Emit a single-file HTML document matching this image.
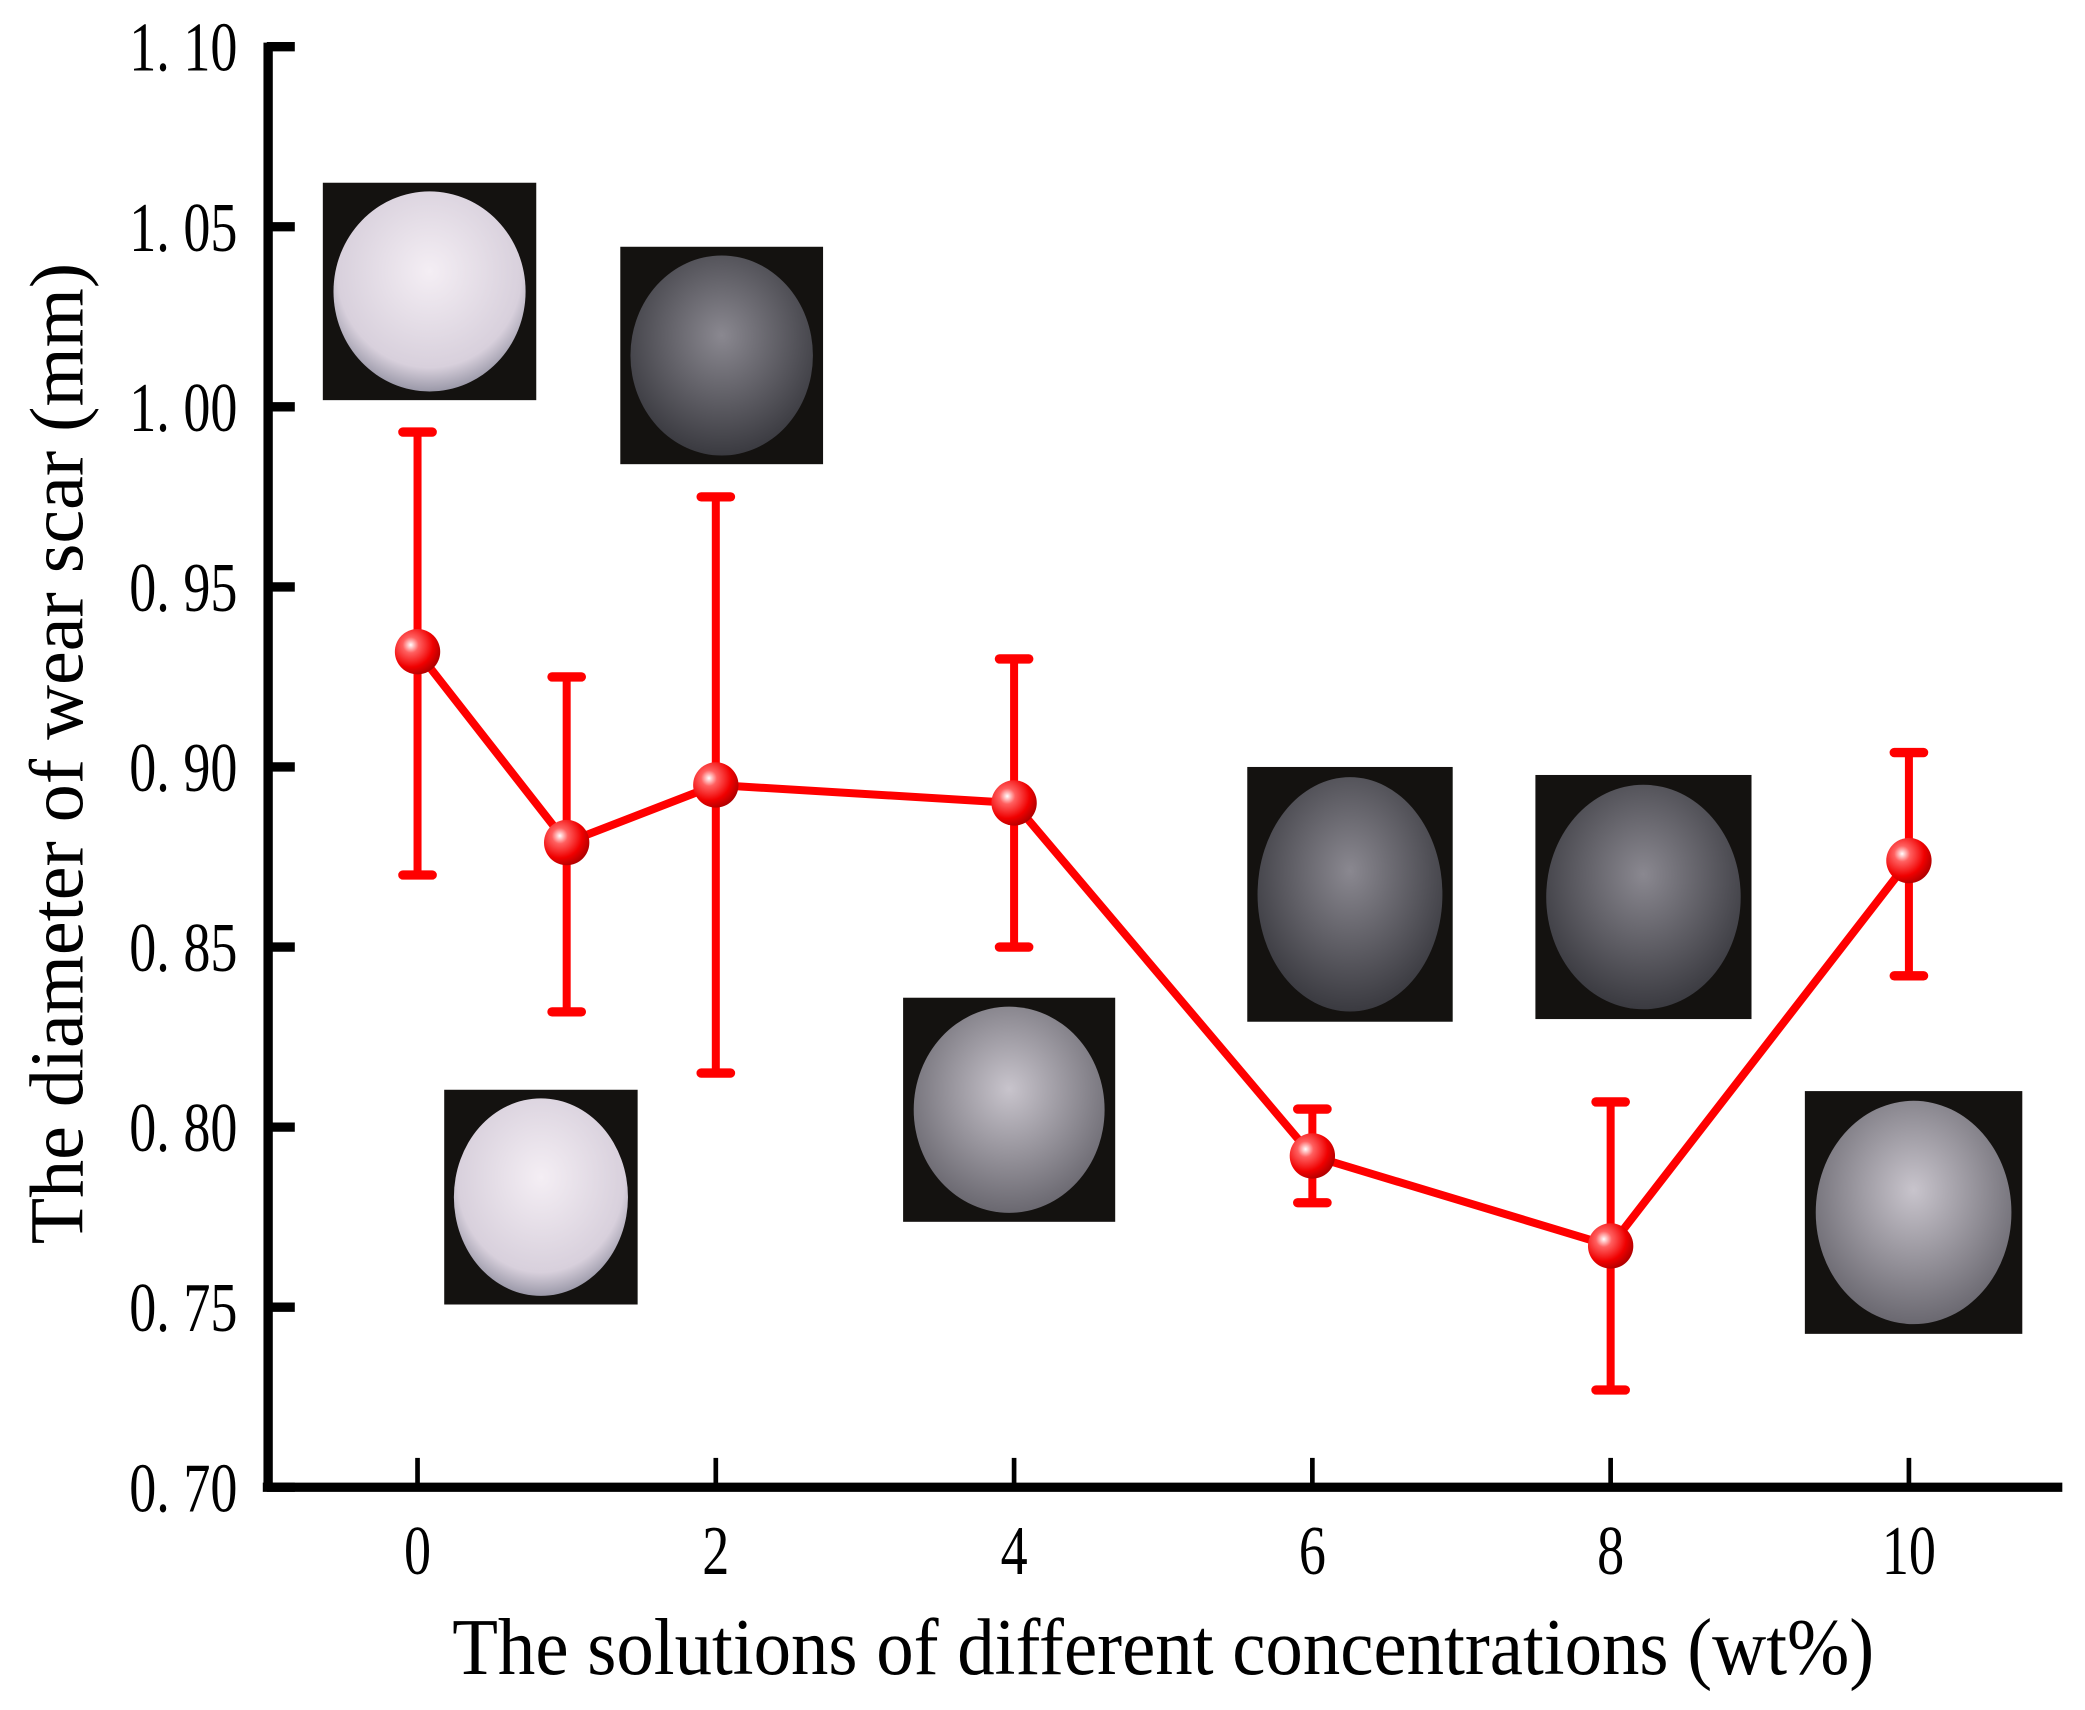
<!DOCTYPE html>
<html><head><meta charset="utf-8"><style>
html,body{margin:0;padding:0;background:#fff;}
svg{display:block;}
text{font-family:"Liberation Serif",serif;fill:#000;}
</style></head><body>
<svg id="chart" width="2085" height="1710" viewBox="0 0 1563 1282" preserveAspectRatio="none" xmlns="http://www.w3.org/2000/svg">
<defs>
<radialGradient id="ball" cx="0.35" cy="0.35" r="0.7">
<stop offset="0" stop-color="#fff"/><stop offset="0.25" stop-color="#ff6060"/><stop offset="0.7" stop-color="#f00000"/><stop offset="1" stop-color="#b00000"/>
</radialGradient>
<radialGradient id="bright" cx="0.5" cy="0.4" r="0.6"><stop offset="0" stop-color="#f4eef4"/><stop offset="0.8" stop-color="#d8d0dc"/><stop offset="1" stop-color="#9a98a8"/></radialGradient>
<radialGradient id="mid" cx="0.5" cy="0.4" r="0.6"><stop offset="0" stop-color="#c8c4cc"/><stop offset="1" stop-color="#6a6870"/></radialGradient>
<radialGradient id="dark" cx="0.5" cy="0.4" r="0.6"><stop offset="0" stop-color="#8a8890"/><stop offset="1" stop-color="#3a3a40"/></radialGradient>
</defs>
<g id="images"></g>
<g id="axes"></g>
<g id="series"></g>
<text transform="translate(62,565) rotate(-90)" text-anchor="middle" font-size="57">The diameter of wear scar (mm)</text>
<text transform="translate(872,1255) scale(0.935,1)" text-anchor="middle" font-size="60">The solutions of different concentrations (wt%)</text>
</svg>
<script>
const xValues = [0, 1, 2, 4, 6, 8, 10];
const means = [0.932, 0.879, 0.895, 0.890, 0.792, 0.767, 0.874];
const errLow = [0.870, 0.832, 0.815, 0.850, 0.779, 0.727, 0.842];
const errHigh = [0.993, 0.925, 0.975, 0.930, 0.805, 0.807, 0.904];
const yTicks = [0.70, 0.75, 0.80, 0.85, 0.90, 0.95, 1.00, 1.05, 1.10];
const yTickLabels = ["0. 70","0. 75","0. 80","0. 85","0. 90","0. 95","1. 00","1. 05","1. 10"];
const xTicks = [0, 2, 4, 6, 8, 10];
const xTickLabels = ["0","2","4","6","8","10"];
const insetTones = ["bright","bright","dark","mid","dark","dark","mid"];
const insetBoxes = [[242,137,402,300],[333,817,478,978],[465,185,617,348],[677,748,836,916],[935,575,1089,766],[1151,581,1313,764],[1353,818,1516,1000]];

const NS = "http://www.w3.org/2000/svg";
function X(v){ return 313 + (v - 0) * 111.8; }
function Y(v){ return 1115 - (v - 0.70) / 0.05 * 135; }
function mk(tag, attrs, parent){ const e = document.createElementNS(NS, tag); for (const k in attrs) e.setAttribute(k, attrs[k]); parent.appendChild(e); return e; }

const img = document.getElementById('images');
insetBoxes.forEach((b, i) => {
  const g = mk('g', {}, img);
  
  
  mk('rect', {x:b[0], y:b[1], width:b[2]-b[0], height:b[3]-b[1], fill:'#141210'}, g);
  const cx=(b[0]+b[2])/2, cy=(b[1]+b[3])/2;
  mk('ellipse', {cx:cx, cy:cy, rx:(b[2]-b[0])*0.45, ry:(b[3]-b[1])*0.46, fill:'url(#'+insetTones[i]+')'}, g);
});

const ax = document.getElementById('axes');
const yl = mk('line', {x1:201, y1:32, x2:201, y2:1118, stroke:'#000', 'stroke-width':7}, ax);


const xl = mk('line', {x1:197, y1:1115, x2:1546, y2:1115, stroke:'#000', 'stroke-width':7}, ax);


yTicks.forEach((t, i) => {
  mk('line', {x1:200, y1:Y(t), x2:221, y2:Y(t), stroke:'#000', 'stroke-width':7}, ax);
  const lb = mk('text', {transform:'translate(178,'+(Y(t)+18)+') scale(0.78,1)', 'text-anchor':'end', 'font-size':52}, ax);
  lb.textContent = yTickLabels[i];
  
  
});
xTicks.forEach((t, i) => {
  mk('line', {x1:X(t), y1:1115, x2:X(t), y2:1093, stroke:'#000', 'stroke-width':3.5}, ax);
  const lb = mk('text', {transform:'translate('+X(t)+',1180) scale(0.78,1)', 'text-anchor':'middle', 'font-size':52}, ax);
  lb.textContent = xTickLabels[i];
  
  
});

const s = document.getElementById('series');
const pl = mk('polyline', {points: xValues.map((x,i)=>X(x)+','+Y(means[i])).join(' '), fill:'none', stroke:'#ff0000', 'stroke-width':6}, s);


xValues.forEach((x, i) => {
  const g = mk('g', {}, s);
  
  
  mk('line', {x1:X(x), y1:Y(errLow[i]), x2:X(x), y2:Y(errHigh[i]), stroke:'#ff0000', 'stroke-width':6}, g);
  mk('line', {x1:X(x)-11, y1:Y(errLow[i]), x2:X(x)+11, y2:Y(errLow[i]), stroke:'#ff0000', 'stroke-width':7, 'stroke-linecap':'round'}, g);
  mk('line', {x1:X(x)-11, y1:Y(errHigh[i]), x2:X(x)+11, y2:Y(errHigh[i]), stroke:'#ff0000', 'stroke-width':7, 'stroke-linecap':'round'}, g);
});
xValues.forEach((x, i) => {
  const c = mk('circle', {cx:X(x), cy:Y(means[i]), r:17, fill:'url(#ball)'}, s);
  
  
});
</script>
</body></html>
